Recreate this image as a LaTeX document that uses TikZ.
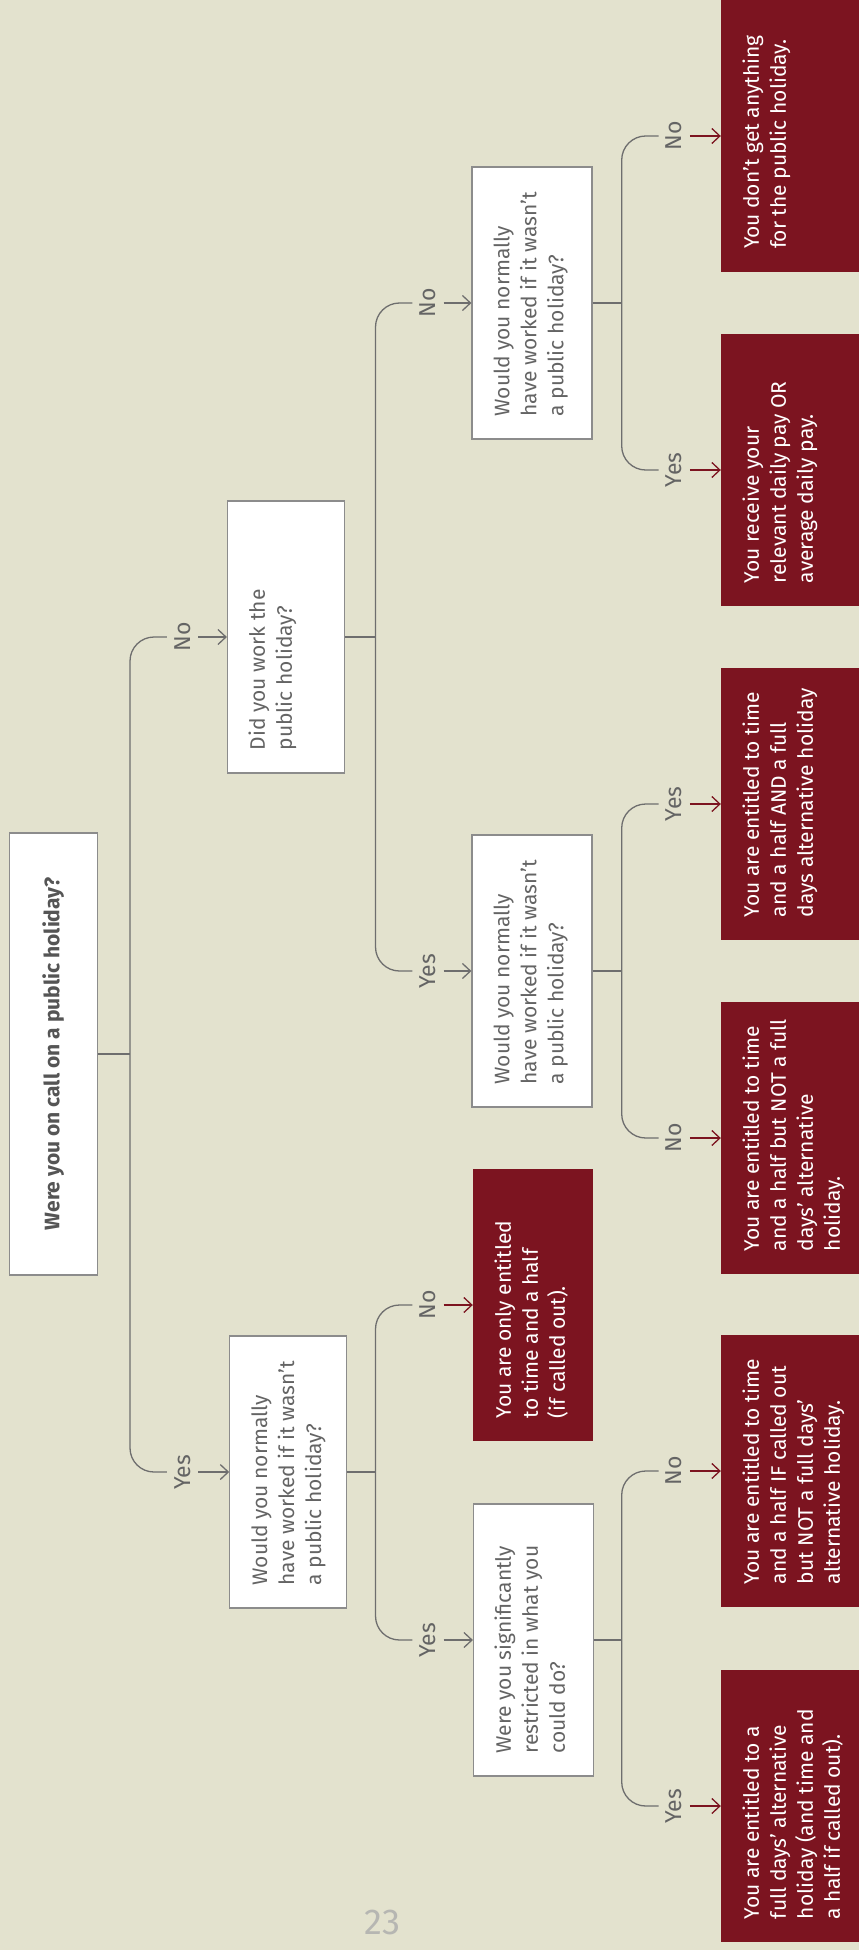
\documentclass[tikz,border=0pt]{standalone}
\usepackage{fontspec}
\usepackage{graphicx}
\setmainfont{Fira Sans}
\usetikzlibrary{arrows.meta}
\definecolor{bg}{RGB}{227,226,206}
\definecolor{wine}{RGB}{124,20,32}
\definecolor{lineg}{RGB}{110,110,110}
\definecolor{boxg}{RGB}{140,140,140}
\definecolor{txtg}{RGB}{100,100,100}
\definecolor{rootg}{RGB}{85,85,85}
\definecolor{pageg}{RGB}{182,182,178}
\newcommand{\boxlines}[1]{\begin{tabular}[t]{@{}l@{}}#1\end{tabular}}
\begin{document}
\begin{tikzpicture}[x=1pt,y=-1pt,
  conn/.style={draw=lineg, line width=1.3pt},
  tip/.style={-{Straight Barb[length=8pt,width=15pt]}},
  garr/.style={conn, tip},
  rarr/.style={draw=wine, line width=1.3pt, tip},
  wbox/.style={draw=boxg, line width=1.2pt, fill=white, inner sep=0pt, minimum height=272pt},
  rbox/.style={fill=wine, inner sep=0pt, minimum height=272pt},
  btxt/.style={rotate=90, anchor=base west, inner sep=0pt, text=txtg, font=\fontsize{21}{27}\selectfont},
  rtxt/.style={btxt, text=white},
  lbl/.style={inner sep=0pt, minimum width=31pt, minimum height=24pt, text=txtg, font=\fontsize{23}{27}\selectfont},
]
\useasboundingbox (0,0) rectangle (859,1950);
\fill[bg] (0,0) rectangle (859,1950);

% boxes
\node[wbox, minimum width=88pt, minimum height=442pt] (root) at (53.3,1054) {};
\node[wbox, minimum width=117pt] (Q1) at (286,637) {};
\node[wbox, minimum width=117pt] (Q2) at (288.3,1472) {};
\node[wbox, minimum width=120pt] (Q3) at (532,303) {};
\node[wbox, minimum width=120pt] (Q4) at (532,971) {};
\node[wbox, minimum width=120pt] (Q5) at (533.5,1640) {};
\node[rbox, minimum width=120pt] (R0) at (533,1305) {};
\node[rbox, minimum width=138pt] (R1) at (790,136) {};
\node[rbox, minimum width=138pt] (R2) at (790,470) {};
\node[rbox, minimum width=138pt] (R3) at (790,804) {};
\node[rbox, minimum width=138pt] (R4) at (790,1138) {};
\node[rbox, minimum width=138pt] (R5) at (790,1471) {};
\node[rbox, minimum width=138pt] (R6) at (790,1806) {};

% texts
\node[rotate=90, inner sep=0pt, text=rootg, font=\fontsize{21}{27}\selectfont\bfseries] (roott) at (root.center) {Were you on call on a public holiday?};
\node[btxt] (Q1t) at ([shift={(38,-23)}]Q1.south west) {\boxlines{Did you work the\\public holiday?}};
\node[btxt] (Q2t) at ([shift={(38,-23)}]Q2.south west) {\boxlines{Would you normally\\have worked if it wasn’t\\a public holiday?}};
\node[btxt] (Q3t) at ([shift={(38,-23)}]Q3.south west) {\boxlines{Would you normally\\have worked if it wasn’t\\a public holiday?}};
\node[btxt] (Q4t) at ([shift={(38,-23)}]Q4.south west) {\boxlines{Would you normally\\have worked if it wasn’t\\a public holiday?}};
\node[btxt] (Q5t) at ([shift={(38,-23)}]Q5.south west) {\boxlines{Were you significantly\\restricted in what you\\could do?}};
\node[rtxt] (R0t) at ([shift={(38,-23)}]R0.south west) {\boxlines{You are only entitled\\to time and a half\\(if called out).}};
\node[rtxt] (R1t) at ([shift={(38,-23)}]R1.south west) {\boxlines{You don’t get anything\\for the public holiday.}};
\node[rtxt] (R2t) at ([shift={(38,-23)}]R2.south west) {\boxlines{You receive your\\relevant daily pay OR\\average daily pay.}};
\node[rtxt] (R3t) at ([shift={(38,-23)}]R3.south west) {\boxlines{You are entitled to time\\and a half AND a full\\days alternative holiday}};
\node[rtxt] (R4t) at ([shift={(38,-23)}]R4.south west) {\boxlines{You are entitled to time\\and a half but NOT a full\\days’ alternative\\holiday.}};
\node[rtxt] (R5t) at ([shift={(38,-23)}]R5.south west) {\boxlines{You are entitled to time\\and a half IF called out\\but NOT a full days’\\alternative holiday.}};
\node[rtxt] (R6t) at ([shift={(38,-23)}]R6.south west) {\boxlines{You are entitled to a\\full days’ alternative\\holiday (and time and\\a half if called out).}};

% junctions
\coordinate (J0) at (130,1054);
\coordinate (J1) at (375.5,637);
\coordinate (J2) at (375.5,1472);
\coordinate (J3) at (621.7,303);
\coordinate (J4) at (621.7,971);
\coordinate (J5) at (621.7,1640);

% labels
\node[lbl] (L0n) at (182.5,637) {\rotatebox{90}{No}};
\node[lbl] (L0y) at (182.5,1472) {\rotatebox{90}{Yes}};
\node[lbl] (L1n) at (428,303) {\rotatebox{90}{No}};
\node[lbl] (L1y) at (428,971) {\rotatebox{90}{Yes}};
\node[lbl] (L2n) at (428,1305) {\rotatebox{90}{No}};
\node[lbl] (L2y) at (428,1640) {\rotatebox{90}{Yes}};
\node[lbl] (L3n) at (674.2,136) {\rotatebox{90}{No}};
\node[lbl] (L3y) at (674.2,470) {\rotatebox{90}{Yes}};
\node[lbl] (L4y) at (674.2,804) {\rotatebox{90}{Yes}};
\node[lbl] (L4n) at (674.2,1138) {\rotatebox{90}{No}};
\node[lbl] (L5n) at (674.2,1471) {\rotatebox{90}{No}};
\node[lbl] (L5y) at (674.2,1806) {\rotatebox{90}{Yes}};

% connectors
\draw[conn] (root.east) -- (J0);
\draw[conn, rounded corners=24pt] (L0n.west) -| (J0) |- (L0y.west);
\draw[conn] (Q1.east) -- (J1);
\draw[conn, rounded corners=24pt] (L1n.west) -| (J1) |- (L1y.west);
\draw[conn] (Q2.east) -- (J2);
\draw[conn, rounded corners=24pt] (L2n.west) -| (J2) |- (L2y.west);
\draw[conn] (Q3.east) -- (J3);
\draw[conn, rounded corners=24pt] (L3n.west) -| (J3) |- (L3y.west);
\draw[conn] (Q4.east) -- (J4);
\draw[conn, rounded corners=24pt] (L4y.west) -| (J4) |- (L4n.west);
\draw[conn] (Q5.east) -- (J5);
\draw[conn, rounded corners=24pt] (L5n.west) -| (J5) |- (L5y.west);

\draw[garr] (L0n.east) -- (Q1.west);
\draw[garr] (L0y.east) -- (Q2.west);
\draw[garr] (L1n.east) -- (Q3.west);
\draw[garr] (L1y.east) -- (Q4.west);
\draw[rarr] (L2n.east) -- (R0.west);
\draw[garr] (L2y.east) -- (Q5.west);
\draw[rarr] (L3n.east) -- (R1.west);
\draw[rarr] (L3y.east) -- (R2.west);
\draw[rarr] (L4y.east) -- (R3.west);
\draw[rarr] (L4n.east) -- (R4.west);
\draw[rarr] (L5n.east) -- (R5.west);
\draw[rarr] (L5y.east) -- (R6.west);

% page number
\node[inner sep=0pt, text=pageg, font=\fontsize{36}{40}\selectfont] (pg) at (382.5,1922.5) {23};
\end{tikzpicture}
\end{document}
